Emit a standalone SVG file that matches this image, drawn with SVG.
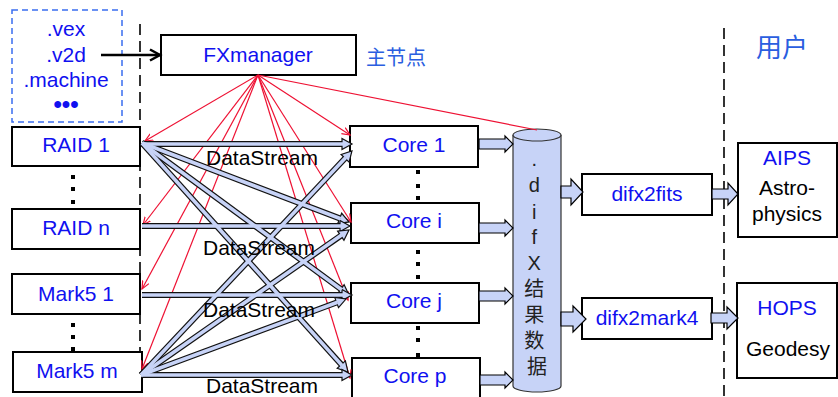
<svg xmlns="http://www.w3.org/2000/svg" width="838" height="397" viewBox="0 0 838 397">
<style>
.box{fill:#fff;stroke:#000;stroke-width:2}
.lbl{font-family:"Liberation Sans",Arial,sans-serif;font-size:21px;fill:#1010f0;text-anchor:middle}
.blk{font-family:"Liberation Sans",Arial,sans-serif;font-size:21px;fill:#000;text-anchor:middle}
.cjk{font-family:"Liberation Sans","Noto Sans CJK SC",sans-serif;fill:#2a5ee0;text-anchor:start}
.red{stroke:#ee1133;stroke-width:1.2;fill:none}
.dsO{stroke:#111;stroke-width:6;fill:none}
.dsI{stroke:#c7d3f7;stroke-width:3.6;fill:none}
.blkarrow{fill:#c7d3f7;stroke:#000;stroke-width:1.2}
.dash{stroke:#000;stroke-width:1.6;stroke-dasharray:11,6;fill:none}
.dot{fill:#000}
</style>
<defs>
<marker id="rh" markerUnits="userSpaceOnUse" markerWidth="10" markerHeight="10" viewBox="0 0 10 10" refX="8" refY="4" orient="auto">
<path d="M0,0.5 L8,4 L0,7.5" fill="none" stroke="#ee1133" stroke-width="1.2"/>
</marker>
<marker id="dh" markerUnits="userSpaceOnUse" markerWidth="14" markerHeight="14" viewBox="-1 -7 13 14" refX="0" refY="0" orient="auto">
<path d="M0,-5.5 L10,0 L0,5.5 Z" fill="#c7d3f7" stroke="#111" stroke-width="1.2"/>
</marker>
<marker id="bh" markerUnits="userSpaceOnUse" markerWidth="14" markerHeight="14" viewBox="0 0 14 14" refX="11" refY="7" orient="auto">
<path d="M1,1.5 L11,7 L1,12.5" fill="none" stroke="#000" stroke-width="2.5"/>
</marker>
</defs>

<rect width="838" height="397" fill="#fff"/>

<g id="separators">
<line class="dash" x1="140" y1="24" x2="140" y2="397"/>
<line class="dash" x1="724" y1="28" x2="724" y2="397"/>
</g>

<g id="inputs">
<rect x="12" y="10" width="110" height="112" fill="none" stroke="#3a6df0" stroke-width="1.5" stroke-dasharray="6,4"/>
<text class="lbl" x="66" y="36">.vex</text>
<text class="lbl" x="66" y="62">.v2d</text>
<text class="lbl" x="66" y="87">.machine</text>
<text class="lbl" x="66" y="112" style="font-size:24px;font-weight:bold">•••</text>
</g>

<g id="fxmanager">
<rect class="box" x="161" y="35" width="195" height="40"/>
<text class="lbl" x="258" y="62">FXmanager</text>
<text class="cjk" x="366" y="65" style="font-size:20px">主节点</text>
</g>

<g id="raid1"><rect class="box" x="12" y="127" width="128" height="39"/><text class="lbl" x="76" y="152">RAID 1</text></g>
<g id="raidn"><rect class="box" x="12" y="209" width="128" height="40"/><text class="lbl" x="76" y="235">RAID n</text></g>
<g id="mark51"><rect class="box" x="12" y="274" width="128" height="40"/><text class="lbl" x="76" y="301">Mark5 1</text></g>
<g id="mark5m"><rect class="box" x="13" y="352" width="129" height="40"/><text class="lbl" x="77" y="378">Mark5 m</text></g>

<g id="leftdots">
<rect class="dot" x="71" y="175" width="4" height="4"/>
<rect class="dot" x="71" y="187" width="4" height="4"/>
<rect class="dot" x="71" y="200" width="4" height="4"/>
<rect class="dot" x="71" y="323" width="4" height="4"/>
<rect class="dot" x="71" y="335" width="4" height="4"/>
<rect class="dot" x="71" y="347" width="4" height="4"/>
</g>

<g id="core1"><rect class="box" x="350" y="126" width="128" height="41"/><text class="lbl" x="414" y="152">Core 1</text></g>
<g id="corei"><rect class="box" x="351" y="203" width="128" height="40"/><text class="lbl" x="414" y="228">Core i</text></g>
<g id="corej"><rect class="box" x="351" y="283" width="128" height="40"/><text class="lbl" x="414" y="308">Core j</text></g>
<g id="corep"><rect class="box" x="352" y="358" width="128" height="44"/><text class="lbl" x="415" y="383">Core p</text></g>

<g id="coredots">
<rect class="dot" x="416" y="170" width="4" height="4"/>
<rect class="dot" x="416" y="184" width="4" height="4"/>
<rect class="dot" x="416" y="196" width="4" height="4"/>
<rect class="dot" x="416" y="250" width="4" height="4"/>
<rect class="dot" x="416" y="262" width="4" height="4"/>
<rect class="dot" x="416" y="275" width="4" height="4"/>
<rect class="dot" x="416" y="326" width="4" height="4"/>
<rect class="dot" x="416" y="338" width="4" height="4"/>
<rect class="dot" x="416" y="353" width="4" height="4"/>
</g>

<g id="difxdata">
<path d="M513,135 L513,386 A24,6 0 0 0 561,386 L561,135" fill="#c7d3f7" stroke="#333" stroke-width="1.2"/>
<ellipse cx="537" cy="135" rx="24" ry="6" fill="#c7d3f7" stroke="#333" stroke-width="1.2"/>
<text style="font-family:'Liberation Sans','Noto Sans CJK SC',sans-serif;font-size:20px;fill:#222;text-anchor:middle">
<tspan x="537" y="166">.</tspan>
<tspan x="537" y="192">d</tspan>
<tspan x="537" y="219">i</tspan>
<tspan x="537" y="244">f</tspan>
<tspan x="537" y="270">X</tspan>
<tspan x="537" y="296">结</tspan>
<tspan x="537" y="322">果</tspan>
<tspan x="537" y="348">数</tspan>
<tspan x="537" y="374">据</tspan>
</text>
</g>

<g id="difx2fits"><rect class="box" x="582" y="174" width="130" height="41"/><text class="lbl" x="647" y="201">difx2fits</text></g>
<g id="difx2mark4"><rect class="box" x="582" y="298" width="130" height="41"/><text class="lbl" x="647" y="325">difx2mark4</text></g>

<g id="aips">
<rect class="box" x="738" y="143" width="99" height="94"/>
<text class="lbl" x="787" y="165">AIPS</text>
<text class="blk" x="787" y="195">Astro-</text>
<text class="blk" x="787" y="221">physics</text>
</g>
<g id="hops">
<rect class="box" x="737" y="283" width="100" height="95"/>
<text class="lbl" x="787" y="315">HOPS</text>
<text class="blk" x="788" y="356">Geodesy</text>
</g>

<g id="users"><text class="cjk" x="756" y="57" style="font-size:26px">用户</text></g>

<g id="connectors">
<line x1="101" y1="55" x2="160" y2="55" stroke="#000" stroke-width="2.5" marker-end="url(#bh)"/>

<g class="red">
<line x1="258" y1="75" x2="145" y2="141" marker-end="url(#rh)"/>
<line x1="258" y1="75" x2="143" y2="225" marker-end="url(#rh)"/>
<line x1="258" y1="75" x2="142" y2="289" marker-end="url(#rh)"/>
<line x1="258" y1="75" x2="142" y2="369" marker-end="url(#rh)"/>
<line x1="258" y1="75" x2="350" y2="135" marker-end="url(#rh)"/>
<line x1="258" y1="75" x2="351" y2="222" marker-end="url(#rh)"/>
<line x1="258" y1="75" x2="348" y2="300" marker-end="url(#rh)"/>
<line x1="258" y1="75" x2="350" y2="378" marker-end="url(#rh)"/>
<line x1="258" y1="75" x2="537" y2="130"/>
</g>

<g class="dsO">
<line x1="142" y1="144" x2="342" y2="144" marker-end="url(#dh)"/>
<line x1="142" y1="143" x2="339.7" y2="218.4" marker-end="url(#dh)"/>
<line x1="142" y1="143" x2="340.9" y2="289.1" marker-end="url(#dh)"/>
<line x1="142" y1="143" x2="341.3" y2="364.6" marker-end="url(#dh)"/>
<line x1="142" y1="226" x2="340" y2="226" marker-end="url(#dh)"/>
<line x1="142" y1="295" x2="342" y2="295" marker-end="url(#dh)"/>
<line x1="141" y1="375" x2="345.1" y2="158.3" marker-end="url(#dh)"/>
<line x1="141" y1="375" x2="340.8" y2="235.7" marker-end="url(#dh)"/>
<line x1="141" y1="375" x2="336.6" y2="302.5" marker-end="url(#dh)"/>
<line x1="141" y1="375" x2="342" y2="375" marker-end="url(#dh)"/>
</g>
<g class="dsI">
<line x1="142" y1="144" x2="343" y2="144"/>
<line x1="142" y1="143" x2="340.6" y2="218.8"/>
<line x1="142" y1="143" x2="341.7" y2="289.7"/>
<line x1="142" y1="143" x2="342" y2="365.4"/>
<line x1="142" y1="226" x2="341" y2="226"/>
<line x1="142" y1="295" x2="343" y2="295"/>
<line x1="141" y1="375" x2="345.8" y2="157.6"/>
<line x1="141" y1="375" x2="341.6" y2="235.1"/>
<line x1="141" y1="375" x2="337.5" y2="302.2"/>
<line x1="141" y1="375" x2="343" y2="375"/>
</g>

<path class="blkarrow" d="M479,139 L505,139 L505,136 L513,144 L505,152 L505,149 L479,149 Z"/>
<path class="blkarrow" d="M479,223 L505,223 L505,220 L513,228 L505,236 L505,233 L479,233 Z"/>
<path class="blkarrow" d="M479,291 L505,291 L505,288 L513,296 L505,304 L505,301 L479,301 Z"/>
<path class="blkarrow" d="M480,375 L505,375 L505,372 L513,380 L505,388 L505,385 L480,385 Z"/>
<path class="blkarrow" d="M561,186 L571,186 L571,179 L583,192 L571,205 L571,198 L561,198 Z"/>
<path class="blkarrow" d="M561,312 L573,312 L573,306 L586,319 L573,332 L573,326 L561,326 Z"/>
<path class="blkarrow" d="M712,189 L728,189 L728,183 L738,194 L728,205 L728,199 L712,199 Z"/>
<path class="blkarrow" d="M711,313 L727,313 L727,307 L738,318 L727,329 L727,323 L711,323 Z"/>
</g>

<g id="labels">
<text class="blk" x="262" y="165">DataStream</text>
<text class="blk" x="259" y="255">DataStream</text>
<text class="blk" x="259" y="317">DataStream</text>
<text class="blk" x="262" y="393">DataStream</text>
</g>
</svg>
